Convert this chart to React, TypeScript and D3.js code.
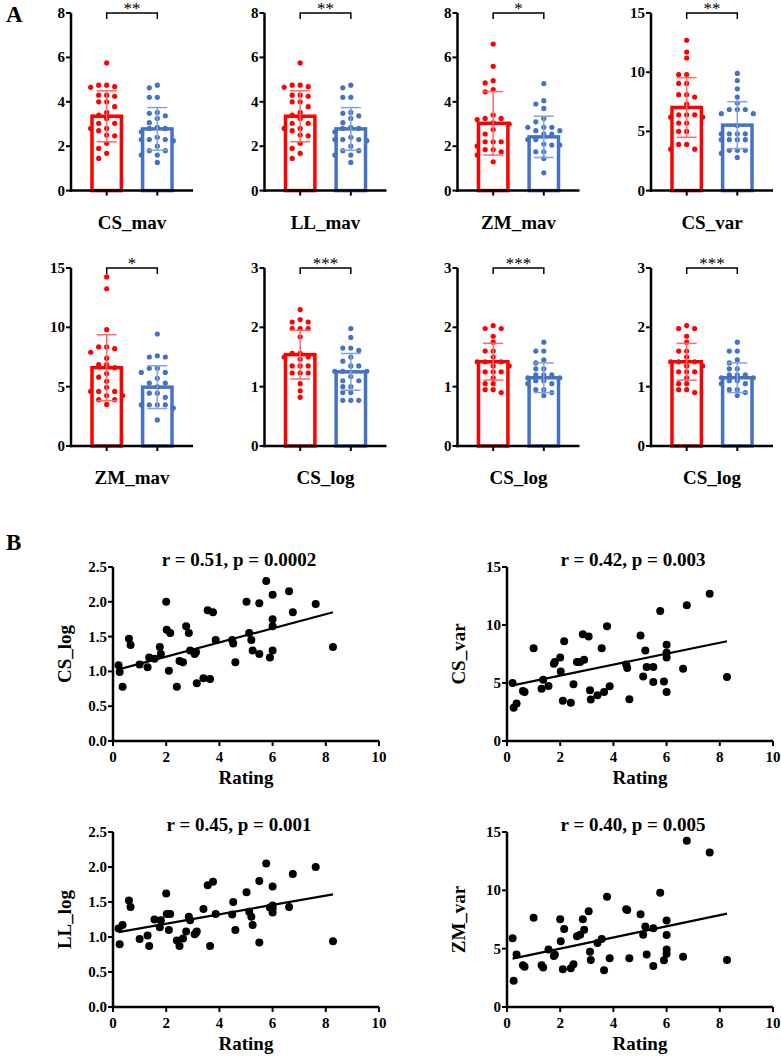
import * as d3 from "d3";

const FONT = "'Liberation Serif', 'Times New Roman', serif";
const RED = "#ff0000";
const BLUE = "#4472c4";

// ---- panel A: bar + dot plots ----
const barTitles = ["CS_mav", "LL_mav", "ZM_mav", "CS_var", "ZM_mav", "CS_log", "CS_log", "CS_log"];
const barMax = [8, 8, 8, 15, 15, 3, 3, 3];
const barStep = [2, 2, 2, 5, 5, 1, 1, 1];
const sigLabels = ["**", "**", "*", "**", "*", "***", "***", "***"];
const redMeans = [3.35, 3.35, 3.03, 7.02, 6.6, 1.54, 1.42, 1.42];
const redSD = [1.15, 1.15, 1.43, 2.52, 2.78, 0.41, 0.31, 0.31];
const blueMeans = [2.78, 2.78, 2.42, 5.53, 4.96, 1.25, 1.15, 1.15];
const blueSD = [0.96, 0.96, 0.93, 1.98, 1.8, 0.31, 0.25, 0.25];

const mavRed = [5.75, 4.75, 4.75, 4.68, 4.65, 4.3, 4.3, 4.25, 4.0, 4.0, 3.78, 3.52, 3.4, 3.25, 3.03, 3.03, 2.8, 2.8, 2.7, 2.5, 2.47, 2.13, 1.9, 1.68, 1.45];
const mavBlue = [4.75, 4.63, 4.2, 4.2, 3.52, 3.48, 3.37, 3.25, 3.06, 2.85, 2.8, 2.8, 2.65, 2.4, 2.3, 2.3, 2.3, 2.25, 2.0, 1.8, 1.8, 1.6, 1.6, 1.27];
const zmMavRed = [6.6, 5.6, 4.95, 4.85, 4.55, 4.45, 3.4, 3.25, 3.25, 3.2, 3.05, 3.0, 2.75, 2.55, 2.2, 2.2, 2.2, 2.0, 1.85, 1.85, 1.75, 1.6, 1.3];
const zmMavBlue = [4.82, 4.05, 3.9, 3.7, 3.25, 3.1, 2.85, 2.85, 2.85, 2.7, 2.7, 2.55, 2.55, 2.3, 2.3, 2.1, 2.05, 2.05, 1.75, 1.75, 1.45, 0.8];
const csVarRed = [12.7, 11.7, 11.2, 9.8, 9.8, 9.05, 9.05, 8.1, 8.1, 7.9, 7.3, 6.4, 6.4, 6.4, 6.2, 6.2, 5.7, 5.7, 5.0, 5.0, 3.9, 3.9, 3.5, 3.5];
const csVarBlue = [9.9, 9.3, 8.6, 7.9, 7.4, 6.85, 6.85, 6.85, 6.5, 6.5, 5.5, 4.8, 4.8, 4.8, 4.8, 4.3, 4.3, 4.3, 4.3, 3.4, 3.4, 3.4, 3.15, 2.8];
const zmMav2Red = [14.25, 13.25, 9.8, 8.35, 8.35, 8.2, 7.9, 7.4, 6.85, 6.85, 6.6, 6.1, 5.8, 5.45, 4.95, 4.6, 4.6, 4.6, 4.25, 4.25, 3.9, 3.9, 3.5];
const zmMav2Blue = [9.44, 7.6, 7.5, 7.5, 6.55, 6.55, 6.2, 6.2, 5.7, 5.3, 5.3, 5.0, 4.45, 4.45, 4.1, 3.47, 3.47, 3.47, 3.47, 3.2, 2.2];
const csLogRed = [2.3, 2.13, 2.09, 2.09, 1.98, 1.98, 1.98, 1.84, 1.56, 1.56, 1.5, 1.5, 1.46, 1.35, 1.35, 1.35, 1.23, 1.23, 1.23, 1.05, 0.93, 0.82];
const csLogBlue = [1.98, 1.83, 1.65, 1.65, 1.61, 1.5, 1.43, 1.35, 1.35, 1.26, 1.26, 1.26, 1.17, 1.1, 1.1, 1.0, 1.0, 0.9, 0.9, 0.77, 0.77, 0.77];
const csLog2Red = [2.03, 1.98, 1.98, 1.85, 1.75, 1.6, 1.6, 1.5, 1.42, 1.42, 1.42, 1.35, 1.35, 1.25, 1.25, 1.25, 1.15, 1.05, 1.05, 0.95, 0.95, 0.9];
const csLog2Blue = [1.75, 1.6, 1.6, 1.45, 1.4, 1.3, 1.3, 1.2, 1.2, 1.2, 1.15, 1.15, 1.1, 1.1, 1.05, 1.05, 0.95, 0.95, 0.9, 0.85];

const dotsRed = [mavRed, mavRed, zmMavRed, csVarRed, zmMav2Red, csLogRed, csLog2Red, csLog2Red];
const dotsBlue = [mavBlue, mavBlue, zmMavBlue, csVarBlue, zmMav2Blue, csLogBlue, csLog2Blue, csLog2Blue];

// ---- panel B: correlations with rating ----
const rating = [0.21, 0.25, 0.36, 0.6, 0.66, 1.0, 1.3, 1.36, 1.56, 1.76, 1.8, 2.0, 2.02, 2.1, 2.15, 2.4, 2.5, 2.63, 2.75, 2.85, 2.9, 3.07, 3.12, 3.15, 3.4, 3.56, 3.65, 3.76, 3.86, 4.48, 4.52, 4.6, 5.02, 5.12, 5.2, 5.25, 5.5, 5.5, 5.76, 5.9, 6.0, 6.0, 6.0, 6.0, 6.62, 6.76, 7.62, 8.27];
const csLog = [1.09, 0.99, 0.78, 1.47, 1.38, 1.1, 1.06, 1.2, 1.18, 1.35, 1.25, 2.0, 1.6, 1.01, 1.55, 0.78, 1.15, 1.13, 1.65, 1.55, 1.3, 1.25, 1.28, 0.83, 0.9, 1.88, 0.89, 1.85, 1.45, 1.45, 1.4, 1.13, 2.0, 1.55, 1.45, 1.3, 1.98, 1.25, 2.3, 1.2, 2.1, 1.65, 1.3, 1.75, 2.15, 1.85, 1.97, 1.35];
const csVar = [5.0, 2.86, 3.23, 4.31, 4.23, 8.0, 4.51, 5.29, 4.74, 6.66, 6.8, 7.2, 6.0, 3.46, 8.6, 3.29, 4.89, 6.8, 6.8, 9.2, 7.0, 9.0, 4.37, 3.57, 3.94, 8.0, 4.23, 9.9, 4.71, 6.6, 6.3, 3.6, 9.1, 5.57, 7.8, 6.37, 6.37, 5.08, 11.2, 5.14, 8.3, 7.6, 4.23, 7.2, 6.23, 11.7, 12.7, 5.51];
const llLog = [1.12, 0.895, 1.17, 1.52, 1.43, 0.97, 1.02, 0.87, 1.25, 1.14, 1.24, 1.62, 1.33, 1.1, 1.33, 0.95, 0.87, 0.98, 1.08, 1.29, 1.24, 1.04, 1.06, 1.08, 1.4, 1.74, 0.87, 1.79, 1.33, 1.32, 1.5, 1.1, 1.64, 1.36, 1.29, 1.17, 1.8, 0.92, 2.05, 1.42, 1.72, 1.45, 1.41, 1.35, 1.43, 1.9, 2.0, 0.94];
const zmVar = [5.89, 2.25, 4.5, 3.58, 3.46, 7.66, 3.58, 3.38, 4.93, 4.37, 4.48, 7.52, 5.63, 3.24, 6.68, 3.32, 3.66, 6.06, 6.2, 7.52, 6.62, 8.2, 4.73, 4.03, 5.49, 5.83, 3.15, 9.44, 4.17, 8.37, 8.31, 4.17, 7.94, 6.2, 6.9, 4.5, 6.76, 3.52, 9.8, 4.0, 7.41, 6.17, 4.93, 4.56, 4.31, 14.25, 13.25, 4.03];

const scatterY = [csLog, csVar, llLog, zmVar];
const scatterLabels = ["CS_log", "CS_var", "LL_log", "ZM_var"];
const scatterTitles = ["r = 0.51, p = 0.0002", "r = 0.42, p = 0.003", "r = 0.45, p = 0.001", "r = 0.40, p = 0.005"];
const scatterMax = [2.5, 15, 2.5, 15];
const scatterStep = [0.5, 5, 0.5, 5];
const fitStart = [1.03, 4.8, 1.07, 4.15];
const fitEnd = [1.85, 8.6, 1.61, 8.0];
const ratingTicks = [0, 2, 4, 6, 8, 10];

const groups = ["red", "blue"];

function swarm(values: number[], y: (v: number) => number, cx: number) {
  const spacing = 8;
  const placed: { x: number; y: number }[] = [];
  const sorted = [...values].sort((a, b) => b - a);
  for (const v of sorted) {
    const py = y(v);
    for (let k = 0; k < 14; k++) {
      const off = k === 0 ? 0 : (k % 2 ? -1 : 1) * Math.ceil(k / 2) * spacing;
      const px = cx + off;
      if (placed.every((p) => Math.hypot(p.x - px, p.y - py) >= 5.6)) {
        placed.push({ x: px, y: py });
        break;
      }
    }
  }
  return placed;
}

function BarPanel({ i, x0, top, bottom }: { i: number; x0: number; top: number; bottom: number }) {
  const w = 122;
  const y = d3.scaleLinear().domain([0, barMax[i]]).range([bottom, top]);
  const x = d3.scaleBand().domain(groups).range([x0, x0 + w]).paddingInner(0.35).paddingOuter(0.38);
  const ticks = d3.range(0, barMax[i] + 1e-9, barStep[i]);
  const bw = x.bandwidth();
  const series = [
    { g: "red", mean: redMeans[i], sd: redSD[i], dots: dotsRed[i], color: RED, err: "#ff6a6a" },
    { g: "blue", mean: blueMeans[i], sd: blueSD[i], dots: dotsBlue[i], color: BLUE, err: "#84a3dc" },
  ];
  const cRed = (x("red") ?? 0) + bw / 2;
  const cBlue = (x("blue") ?? 0) + bw / 2;
  return (
    <g>
      {series.map((s) => {
        const bx = x(s.g) ?? 0;
        const cx = bx + bw / 2;
        return (
          <g key={s.g}>
            <rect x={bx + 1.75} y={y(s.mean)} width={bw - 3.5} height={bottom - y(s.mean)} fill="white" stroke={s.color} strokeWidth={3.5} />
            {swarm(s.dots, y, cx).map((p, k) => (
              <circle key={k} cx={p.x} cy={p.y} r={2.6} fill={s.color} />
            ))}
            <g stroke={s.err} strokeWidth={1.5}>
              <line x1={cx} x2={cx} y1={y(s.mean - s.sd)} y2={y(s.mean + s.sd)} />
              <line x1={cx - 10} x2={cx + 10} y1={y(s.mean + s.sd)} y2={y(s.mean + s.sd)} />
              <line x1={cx - 10} x2={cx + 10} y1={y(s.mean - s.sd)} y2={y(s.mean - s.sd)} />
            </g>
          </g>
        );
      })}
      {/* axes */}
      <line x1={x0} x2={x0} y1={top} y2={bottom + 1.25} stroke="black" strokeWidth={2.5} />
      <line x1={x0 - 1.25} x2={x0 + w} y1={bottom} y2={bottom} stroke="black" strokeWidth={2.5} />
      {ticks.map((t) => (
        <g key={t}>
          <line x1={x0 - 5} x2={x0} y1={y(t)} y2={y(t)} stroke="black" strokeWidth={2} />
          <text x={x0 - 6} y={y(t) + 5} textAnchor="end" fontSize={15} fontWeight="bold" fontFamily={FONT}>
            {t}
          </text>
        </g>
      ))}
      {[cRed, cBlue].map((c, k) => (
        <line key={k} x1={c} x2={c} y1={bottom} y2={bottom + 5} stroke="black" strokeWidth={2} />
      ))}
      {/* significance bracket */}
      <path d={`M${cRed},${top + 6}V${top}H${cBlue}V${top + 6}`} fill="none" stroke="black" strokeWidth={1.5} />
      <text x={(cRed + cBlue) / 2} y={top + 1} textAnchor="middle" fontSize={17} fontFamily={FONT}>
        {sigLabels[i]}
      </text>
      <text x={x0 + w / 2} y={bottom + 38} textAnchor="middle" fontSize={19} fontWeight="bold" fontFamily={FONT}>
        {barTitles[i]}
      </text>
    </g>
  );
}

function ScatterPanel({ i, x0, top, bottom }: { i: number; x0: number; top: number; bottom: number }) {
  const w = 266;
  const x = d3.scaleLinear().domain([0, 10]).range([x0, x0 + w]);
  const y = d3.scaleLinear().domain([0, scatterMax[i]]).range([bottom, top]);
  const ticks = d3.range(0, scatterMax[i] + 1e-9, scatterStep[i]);
  const fmt = scatterStep[i] < 1 ? d3.format(".1f") : d3.format("d");
  const vals = scatterY[i];
  const xMin = d3.min(rating) ?? 0;
  const xMax = d3.max(rating) ?? 10;
  const fitLine = d3.line<[number, number]>().x((d) => x(d[0])).y((d) => y(d[1]));
  return (
    <g>
      <text x={x0 + w / 2 - 7} y={top - 1} textAnchor="middle" fontSize={19} fontWeight="bold" fontFamily={FONT}>
        {scatterTitles[i]}
      </text>
      {rating.map((r, k) => (
        <circle key={k} cx={x(r)} cy={y(vals[k])} r={4} fill="black" />
      ))}
      <path d={fitLine([[xMin, fitStart[i]], [xMax, fitEnd[i]]]) ?? ""} stroke="black" strokeWidth={2.2} fill="none" />
      <line x1={x0} x2={x0} y1={top} y2={bottom + 1.25} stroke="black" strokeWidth={2.5} />
      <line x1={x0 - 1.25} x2={x0 + w} y1={bottom} y2={bottom} stroke="black" strokeWidth={2.5} />
      {ticks.map((t) => (
        <g key={t}>
          <line x1={x0 - 5} x2={x0} y1={y(t)} y2={y(t)} stroke="black" strokeWidth={2} />
          <text x={x0 - 6} y={y(t) + 5} textAnchor="end" fontSize={15} fontWeight="bold" fontFamily={FONT}>
            {fmt(t)}
          </text>
        </g>
      ))}
      {ratingTicks.map((t) => (
        <g key={t}>
          <line x1={x(t)} x2={x(t)} y1={bottom} y2={bottom + 5} stroke="black" strokeWidth={2} />
          <text x={x(t)} y={bottom + 21} textAnchor="middle" fontSize={15} fontWeight="bold" fontFamily={FONT}>
            {t}
          </text>
        </g>
      ))}
      <text x={x0 + w / 2} y={bottom + 43} textAnchor="middle" fontSize={19} fontWeight="bold" fontFamily={FONT}>
        Rating
      </text>
      <text
        transform={`translate(${x0 - 42},${(top + bottom) / 2}) rotate(-90)`}
        textAnchor="middle"
        fontSize={19}
        fontWeight="bold"
        fontFamily={FONT}
      >
        {scatterLabels[i]}
      </text>
    </g>
  );
}

const barCols = [71, 264.5, 457.5, 651];
const barRows = [
  { top: 13, bottom: 190.6 },
  { top: 268, bottom: 446 },
];
const scatterCols = [113, 507];
const scatterRows = [
  { top: 567, bottom: 741 },
  { top: 832, bottom: 1007 },
];

export default function App() {
  return (
    <svg
      width={781}
      height={1062}
      viewBox="0 0 781 1062"
      style={{ position: "absolute", left: 0, top: 0, background: "white" }}
    >
      <rect width={781} height={1062} fill="white" />
      <text x={6} y={22} fontSize={23} fontWeight="bold" fontFamily={FONT}>A</text>
      <text x={6} y={550} fontSize={23} fontWeight="bold" fontFamily={FONT}>B</text>
      {barTitles.map((_, i) => (
        <BarPanel key={i} i={i} x0={barCols[i % 4]} top={barRows[Math.floor(i / 4)].top} bottom={barRows[Math.floor(i / 4)].bottom} />
      ))}
      {scatterTitles.map((_, i) => (
        <ScatterPanel
          key={i}
          i={i}
          x0={scatterCols[i % 2]}
          top={scatterRows[Math.floor(i / 2)].top}
          bottom={scatterRows[Math.floor(i / 2)].bottom}
        />
      ))}
    </svg>
  );
}
